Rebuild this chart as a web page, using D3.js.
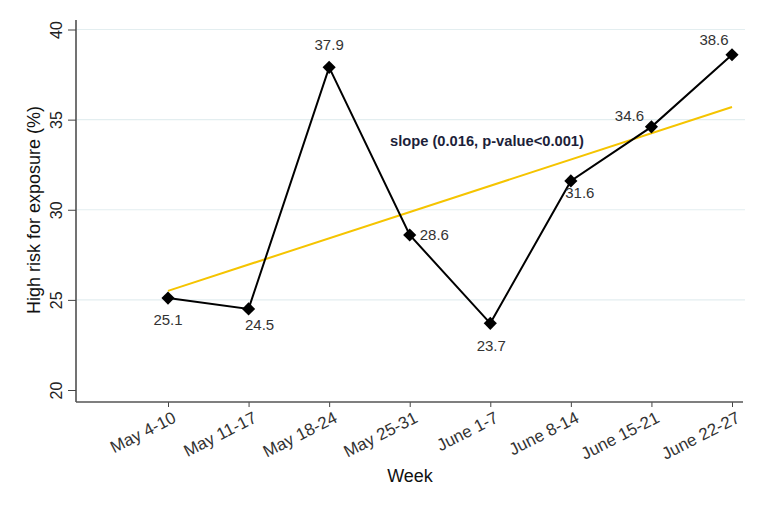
<!DOCTYPE html>
<html>
<head>
<meta charset="utf-8">
<script src="https://cdn.jsdelivr.net/npm/d3@7"></script>
<style>
body { margin:0; background:#fff; }
text { font-family: "Liberation Sans", Arial, sans-serif; }
</style>
</head>
<body>
<div id="chart-area"></div>
<script>
// High risk for exposure by week
var weeks = ["May 4-10", "May 11-17", "May 18-24", "May 25-31", "June 1-7", "June 8-14", "June 15-21", "June 22-27"];
var values = [25.1, 24.5, 37.9, 28.6, 23.7, 31.6, 34.6, 38.6];
var trend = [25.5, 35.7]; // fitted line at first and last week
var yTicks = [20, 25, 30, 35, 40];

// where each value label sits relative to its marker (dx, dy, anchor)
var labelOffsets = [
	[0, 27, "middle"],
	[11, 21, "middle"],
	[0, -17, "middle"],
	[10, 5, "start"],
	[1, 28, "middle"],
	[9, 17, "middle"],
	[-22, -6, "middle"],
	[-18, -10, "middle"]
];

var width = 763, height = 506;
var margin = { left:76, right:20, top:20, bottom:104 };

var svg = d3.select("#chart-area")
	.append("svg")
		.attr("width", width)
		.attr("height", height);

var x = d3.scalePoint()
	.domain(weeks)
	.range([168, 732]);

var y = d3.scaleLinear()
	.domain([20, 40])
	.range([390, 29.5]);

var axisY = height - margin.bottom; // 402

// gridlines
svg.selectAll("line.grid")
	.data(yTicks.slice(1))
	.enter().append("line")
		.attr("class", "grid")
		.attr("x1", margin.left + 1)
		.attr("x2", 745)
		.attr("y1", function(d){ return y(d); })
		.attr("y2", function(d){ return y(d); })
		.attr("stroke", "#e3eef0")
		.attr("stroke-width", 1.2);

// y axis
var yAxisCall = d3.axisLeft(y)
	.tickValues(yTicks)
	.tickSize(8)
	.tickFormat(d3.format("d"));
var yAxisGroup = svg.append("g")
	.attr("transform", "translate(" + margin.left + ",0)")
	.call(yAxisCall);
yAxisGroup.select(".domain").remove();
yAxisGroup.selectAll(".tick line").attr("stroke", "#444");
yAxisGroup.selectAll(".tick text")
	.attr("transform", "translate(-14,0) rotate(-90)")
	.attr("x", 0)
	.attr("y", 0)
	.attr("dy", 0)
	.attr("text-anchor", "middle")
	.attr("font-size", "16px")
	.attr("fill", "#222");
svg.append("line")
	.attr("x1", margin.left).attr("x2", margin.left)
	.attr("y1", 20).attr("y2", axisY)
	.attr("stroke", "#444").attr("stroke-width", 1.5);

// x axis
var xAxisCall = d3.axisBottom(x).tickSize(5);
var xAxisGroup = svg.append("g")
	.attr("transform", "translate(0," + axisY + ")")
	.call(xAxisCall);
xAxisGroup.select(".domain").remove();
xAxisGroup.selectAll(".tick line").attr("stroke", "#444");
xAxisGroup.selectAll(".tick text")
	.attr("transform", "rotate(-27)")
	.attr("x", -1)
	.attr("y", 9)
	.attr("dy", "0.72em")
	.attr("text-anchor", "end")
	.attr("font-size", "17px")
	.attr("fill", "#333");
svg.append("line")
	.attr("x1", margin.left).attr("x2", 743)
	.attr("y1", axisY).attr("y2", axisY)
	.attr("stroke", "#555").attr("stroke-width", 1.5);

// axis titles
svg.append("text")
	.attr("transform", "rotate(-90)")
	.attr("x", -210)
	.attr("y", 40)
	.attr("text-anchor", "middle")
	.attr("font-family", "'Liberation Sans Narrow', 'Liberation Sans', Arial, sans-serif")
	.attr("font-size", "18px")
	.attr("fill", "#111")
	.text("High risk for exposure (%)");

svg.append("text")
	.attr("x", 410)
	.attr("y", 482)
	.attr("text-anchor", "middle")
	.attr("font-size", "18px")
	.attr("fill", "#111")
	.text("Week");

// trend line
svg.append("line")
	.attr("x1", x(weeks[0]))
	.attr("x2", x(weeks[weeks.length - 1]))
	.attr("y1", y(trend[0]))
	.attr("y2", y(trend[1]))
	.attr("stroke", "#f5c400")
	.attr("stroke-width", 2);

svg.append("text")
	.attr("x", 390)
	.attr("y", 146)
	.attr("font-family", "Lato, sans-serif")
	.attr("font-weight", "bold")
	.attr("font-size", "14.7px")
	.attr("fill", "#1d1f3a")
	.text("slope (0.016, p-value<0.001)");

// data line
var line = d3.line()
	.x(function(d, i){ return x(weeks[i]); })
	.y(function(d){ return y(d); });

svg.append("path")
	.datum(values)
	.attr("d", line)
	.attr("fill", "none")
	.attr("stroke", "#000")
	.attr("stroke-width", 2);

svg.selectAll("path.marker")
	.data(values)
	.enter().append("path")
		.attr("class", "marker")
		.attr("d", d3.symbol().type(d3.symbolDiamond2).size(110))
		.attr("transform", function(d, i){ return "translate(" + x(weeks[i]) + "," + y(d) + ")"; })
		.attr("fill", "#000");

svg.selectAll("text.vlabel")
	.data(values)
	.enter().append("text")
		.attr("class", "vlabel")
		.attr("x", function(d, i){ return x(weeks[i]) + labelOffsets[i][0]; })
		.attr("y", function(d, i){ return y(d) + labelOffsets[i][1]; })
		.attr("text-anchor", function(d, i){ return labelOffsets[i][2]; })
		.attr("font-size", "15px")
		.attr("fill", "#333")
		.text(function(d){ return d.toFixed(1); });
</script>
</body>
</html>
